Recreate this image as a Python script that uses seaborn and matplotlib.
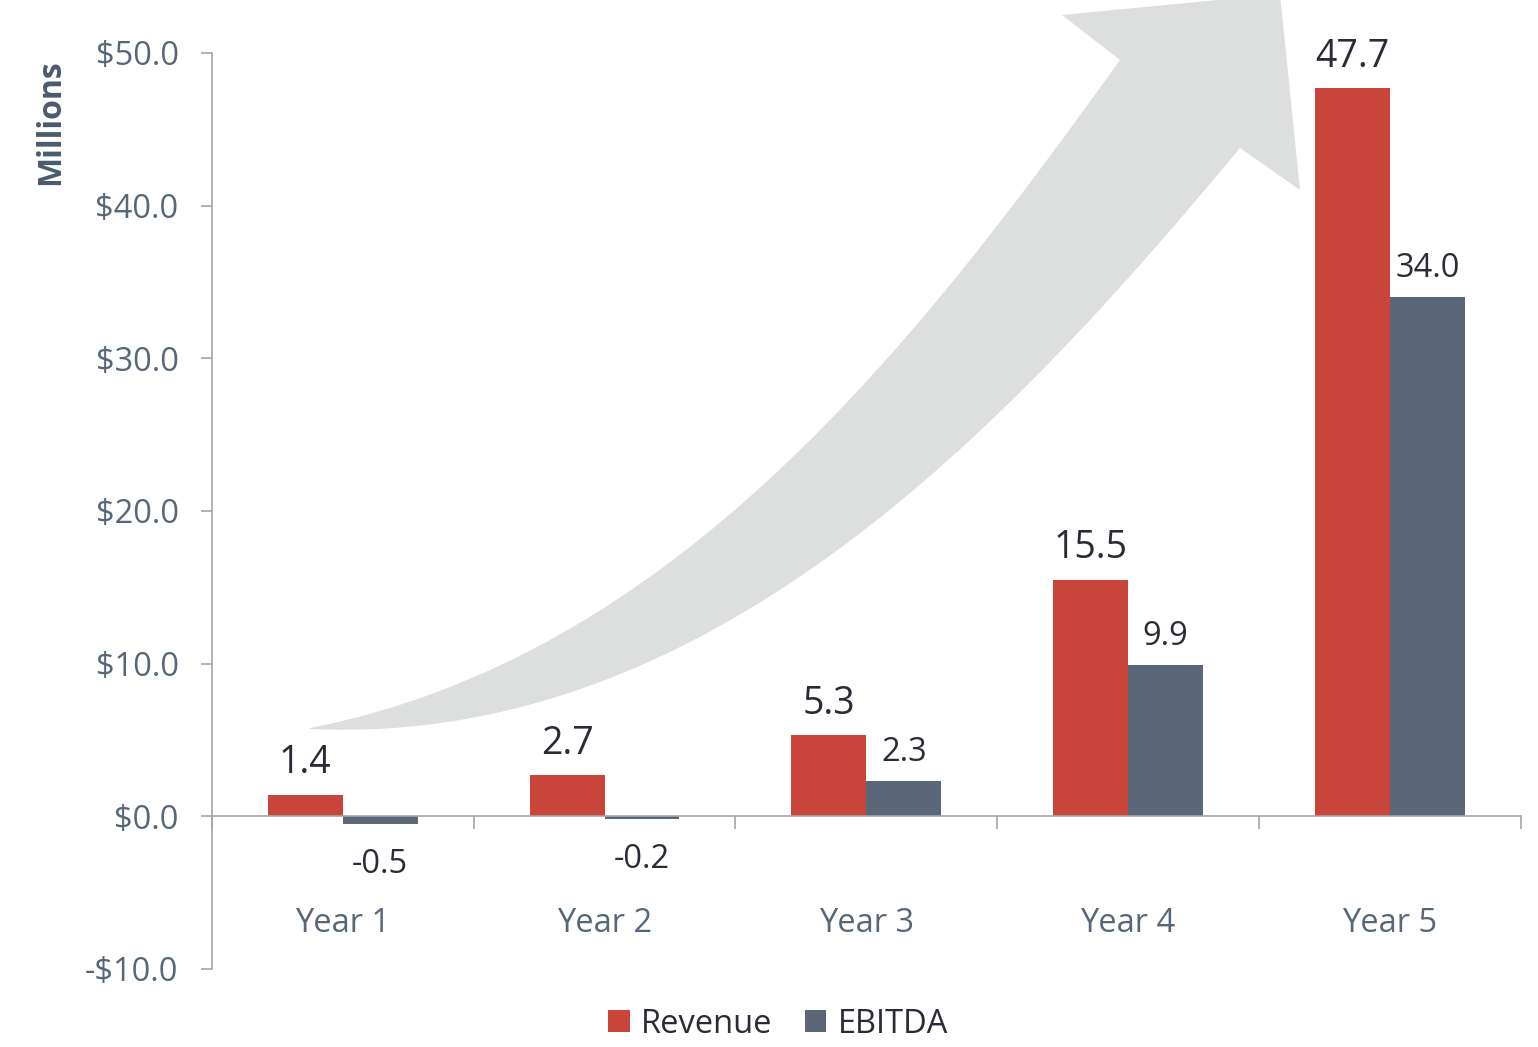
import matplotlib
matplotlib.use("Agg")
import matplotlib.pyplot as plt
from matplotlib.path import Path
from matplotlib.patches import PathPatch, Patch
import seaborn as sns
import pandas as pd
import numpy as np

sns.set_theme(style="white")
plt.rcParams['font.family'] = ['Open Sans', 'DejaVu Sans']

years = ['Year 1', 'Year 2', 'Year 3', 'Year 4', 'Year 5']
revenue = [1.4, 2.7, 5.3, 15.5, 47.7]
ebitda = [-0.5, -0.2, 2.3, 9.9, 34.0]
series = ['Revenue', 'EBITDA']
colors = ['#c9443b', '#5b6679']
y_ticks = [-10, 0, 10, 20, 30, 40, 50]

TXT = '#2b2b35'
AXC = '#56677a'
SPINE = '#a6a6a6'

df = pd.DataFrame({'Year': years * 2,
                   'Series': ['Revenue'] * 5 + ['EBITDA'] * 5,
                   'Value': revenue + ebitda})

fig = plt.figure(figsize=(15.38, 10.47), dpi=100)
ax = fig.add_axes([0.1378, 0.0745, 0.851, 0.8749])

sns.barplot(data=df, x='Year', y='Value', hue='Series', hue_order=series,
            palette=colors, width=0.572, gap=0, saturation=1, ax=ax,
            legend=False, zorder=2, edgecolor='none')

ax.set_ylim(-10, 50)
ax.set_xlim(-0.5, 4.5)

# background growth arrow, outline traced in image pixels then mapped to data
upper = [(310, 728), (413, 700), (547, 647), (600, 608), (667, 563), (743, 500),
         (850, 400), (917, 327), (982, 250), (1040, 160), (1120, 60)]
head = [(1062, 15), (1280, -6), (1300, 190), (1240, 148)]
lower = [(1240, 148), (1200, 200), (1050, 360), (1000, 410), (960, 450), (800, 578),
         (733, 617), (667, 655), (600, 682), (480, 717), (380, 729), (310, 729)]


def to_data(pts):
    disp = np.array([(x, 1047 - y) for x, y in pts], dtype=float)
    return ax.transData.inverted().transform(disp)


def fit_cubic(pts):
    # least-squares cubic Bezier (in pixel space) with fixed end points
    pts = np.asarray(pts, dtype=float)
    d = np.r_[0, np.cumsum(np.hypot(*np.diff(pts, axis=0).T))]
    t = d / d[-1]
    b0, b1, b2, b3 = (1 - t) ** 3, 3 * t * (1 - t) ** 2, 3 * t ** 2 * (1 - t), t ** 3
    rhs = pts - np.outer(b0, pts[0]) - np.outer(b3, pts[-1])
    ctrl, *_ = np.linalg.lstsq(np.column_stack([b1, b2]), rhs, rcond=None)
    return list(to_data([pts[0], ctrl[0], ctrl[1], pts[-1]]))


pu = fit_cubic(upper)
pl = fit_cubic(lower)
hd = to_data(head)
verts = pu + list(hd[:-1]) + pl + [pu[0]]
codes = ([Path.MOVETO] + [Path.CURVE4] * 3 + [Path.LINETO] * 3
         + [Path.LINETO] + [Path.CURVE4] * 3 + [Path.CLOSEPOLY])
ax.add_patch(PathPatch(Path(verts, codes), facecolor='#dcdfde', edgecolor='none',
                       zorder=0.5, clip_on=False))

# value labels
for cont, sz in zip(ax.containers, [27, 23.5]):
    for bar in cont:
        h = bar.get_height()
        xc = bar.get_x() + bar.get_width() / 2
        if h >= 0:
            ax.annotate(f'{h:.1f}', (xc, h), xytext=(0, 9), textcoords='offset points',
                        ha='center', va='bottom', fontsize=sz, color=TXT)
        else:
            ax.annotate(f'{h:.1f}', (xc, h), xytext=(0, -17), textcoords='offset points',
                        ha='center', va='top', fontsize=sz, color=TXT)

# axes styling
for s in ['top', 'right']:
    ax.spines[s].set_visible(False)
ax.spines['bottom'].set_position(('data', 0))
for s in ['left', 'bottom']:
    ax.spines[s].set_color(SPINE)
    ax.spines[s].set_linewidth(1.2)

ax.set_yticks(y_ticks)
ax.set_yticklabels([f'-${abs(v):.1f}' if v < 0 else f'${v:.1f}' for v in y_ticks])
ax.tick_params(axis='y', direction='out', length=8, width=1.2, color=SPINE,
               labelsize=23.5, labelcolor=AXC, pad=16, left=True)

ax.set_xticks(np.arange(-0.5, 5, 1.0))
ax.set_xticklabels([])
ax.tick_params(axis='x', direction='out', length=9, width=1.2, color=SPINE, bottom=True)
for i, yr in enumerate(years):
    ax.text(i, -7.0, yr, ha='center', va='center', fontsize=23.5, color=AXC)

ax.set_xlabel('')
ax.set_ylabel('')
fig.text(0.033, 0.8835, 'Millions', rotation=90, ha='center', va='center',
         fontsize=23, fontweight='bold', color='#4b5b6b')

handles = [Patch(facecolor=c, edgecolor='none') for c in colors]
fig.legend(handles, series, loc='lower center', ncol=2, frameon=False,
           bbox_to_anchor=(0.506, -0.022), fontsize=23.5, handlelength=0.65,
           handleheight=0.65, handletextpad=0.35, columnspacing=1.0, labelcolor=TXT)

fig.savefig('out.png', dpi=100)
